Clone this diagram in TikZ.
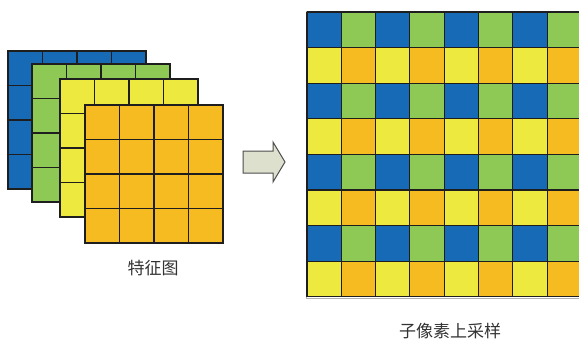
\documentclass[tikz,border=0pt]{standalone}
\usepackage{fontspec}
\newfontfamily\cjk{Noto Sans CJK SC}
\definecolor{cblue}{RGB}{22,106,182}
\definecolor{cgreen}{RGB}{142,201,86}
\definecolor{cyellow}{RGB}{238,233,62}
\definecolor{corange}{RGB}{246,187,32}
\definecolor{cline}{RGB}{30,30,30}
\definecolor{arrowfill}{RGB}{222,224,206}
\tikzset{
  gridline/.style={draw=cline, line width=1.1pt},
  cell/.style={draw=cline, line width=1.1pt},
  label/.style={font=\cjk\fontsize{17}{20}\selectfont, text=black!80, inner sep=0pt},
  bigarrow/.style={draw=black!70, line width=1pt, fill=arrowfill, line join=miter}
}
\begin{document}
\begin{tikzpicture}[x=1pt,y=-1pt]
\useasboundingbox (0,0) rectangle (579,340);
\clip (0,0) rectangle (579,340);
% left stacked feature maps
\foreach \xx/\yy/\col in {8/51/cblue, 32/64/cgreen, 60/79/cyellow, 85/105/corange}{
  \fill[\col] (\xx,\yy) rectangle ++(138,138);
  \foreach \i in {1,2,3}{
    \draw[gridline] (\xx+\i*34.5,\yy) -- ++(0,138);
    \draw[gridline] (\xx,\yy+\i*34.5) -- ++(138,0);
  }
  \draw[gridline] (\xx,\yy) rectangle ++(138,138);
}
\node[label] (lblL) at (153,268) {特征图};
% arrow
\draw[bigarrow] (243,151) -- (273,151) -- (273,142) -- (285,162) -- (273,182) -- (273,173) -- (243,173) -- cycle;
% right upsampled grid
\draw[draw=black!30, line width=1pt] (306,11) rectangle (620,298);
\foreach \r in {0,...,7}{
  \foreach \c in {0,...,7}{
    \pgfmathtruncatemacro{\rr}{mod(\r,2)}
    \pgfmathtruncatemacro{\cc}{mod(\c,2)}
    \ifnum\rr=0
      \ifnum\cc=0 \def\fc{cblue}\else\def\fc{cgreen}\fi
    \else
      \ifnum\cc=0 \def\fc{cyellow}\else\def\fc{corange}\fi
    \fi
    \fill[\fc] (307+\c*34.3,12+\r*35.6) rectangle ++(34.3,35.6);
  }
}
\foreach \c in {0,...,8}{
  \draw[gridline] (307+\c*34.3,12) -- (307+\c*34.3,296.8);
}
\foreach \r in {0,...,8}{
  \draw[gridline] (307,12+\r*35.6) -- (600,12+\r*35.6);
}
\node[label] (lblR) at (450,331) {子像素上采样};
\end{tikzpicture}
\end{document}
